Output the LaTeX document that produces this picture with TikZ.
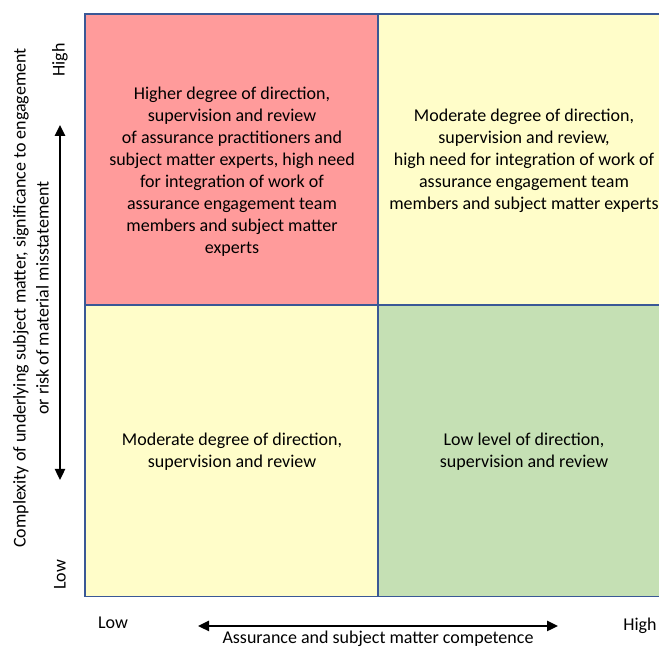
\documentclass[tikz,border=0pt]{standalone}
\usepackage{fontspec}
\setmainfont{Carlito}
\usetikzlibrary{positioning}
\usetikzlibrary{arrows.meta}
\definecolor{rojo}{HTML}{FF9B9B}
\definecolor{amarillo}{HTML}{FFFDC9}
\definecolor{verde}{HTML}{C5E0B4}
\definecolor{bordeazul}{HTML}{3A5896}

\begin{document}
\begin{tikzpicture}[x=1pt,y=1pt,
    cuadro/.style={draw=bordeazul, line width=1.8pt, minimum width=293pt, minimum height=291pt, inner sep=0pt},
    texto/.style={align=center, font=\fontsize{18}{22}\selectfont},
    etiqueta/.style={font=\fontsize{18}{20}\selectfont},
    eje/.style={line width=2.4pt, {Triangle[length=11pt,width=10pt]}-{Triangle[length=11pt,width=10pt]}}]
    % Marco de la figura
    \clip (0,0) rectangle (659,647);

    % Cuadrantes
    \node[cuadro, fill=rojo] (altobajo) at (231.5,487.5) {};
    \node[cuadro, fill=amarillo] (altoalto) at (524.5,487.5) {};
    \node[cuadro, fill=amarillo] (bajobajo) at (231.5,196) {};
    \node[cuadro, fill=verde] (bajoalto) at (524.5,196) {};

    % Textos de los cuadrantes
    \node[texto] (txtrojo) at (232,475) {Higher degree of direction,\\ supervision and review\\ of assurance practitioners and\\ subject matter experts, high need\\ for integration of work of\\ assurance engagement team\\ members and subject matter\\ experts};
    \node[texto] (txtamarillo) at (524,486) {Moderate degree of direction,\\ supervision and review,\\ high need for integration of work of\\ assurance engagement team\\ members and subject matter experts};
    \node[texto] (txtmoderado) at (232,195) {Moderate degree of direction,\\ supervision and review};
    \node[texto] (txtverde) at (524,195) {Low level of direction,\\ supervision and review};

    % Eje vertical
    \node[etiqueta, rotate=90] (yalto) at (60,587) {High};
    \node[etiqueta, rotate=90] (ybajo) at (60,72) {Low};
    \coordinate (yarriba) at (60,522);
    \coordinate (yabajo) at (60,167);
    \draw[eje] (yabajo) -- (yarriba);
    \node[texto, rotate=90, font=\fontsize{18}{23}\selectfont] (ytitulo) at (31,349) {Complexity of underlying subject matter, significance to engagement\\ or risk of material misstatement};

    % Eje horizontal
    \node[etiqueta] (xbajo) at (113,24) {Low};
    \node[etiqueta] (xalto) at (640,21) {High};
    \coordinate (xizq) at (198,21);
    \coordinate (xder) at (558,21);
    \draw[eje] (xizq) -- (xder);
    \node[etiqueta] (xtitulo) at (378,8) {Assurance and subject matter competence};
\end{tikzpicture}
\end{document}
